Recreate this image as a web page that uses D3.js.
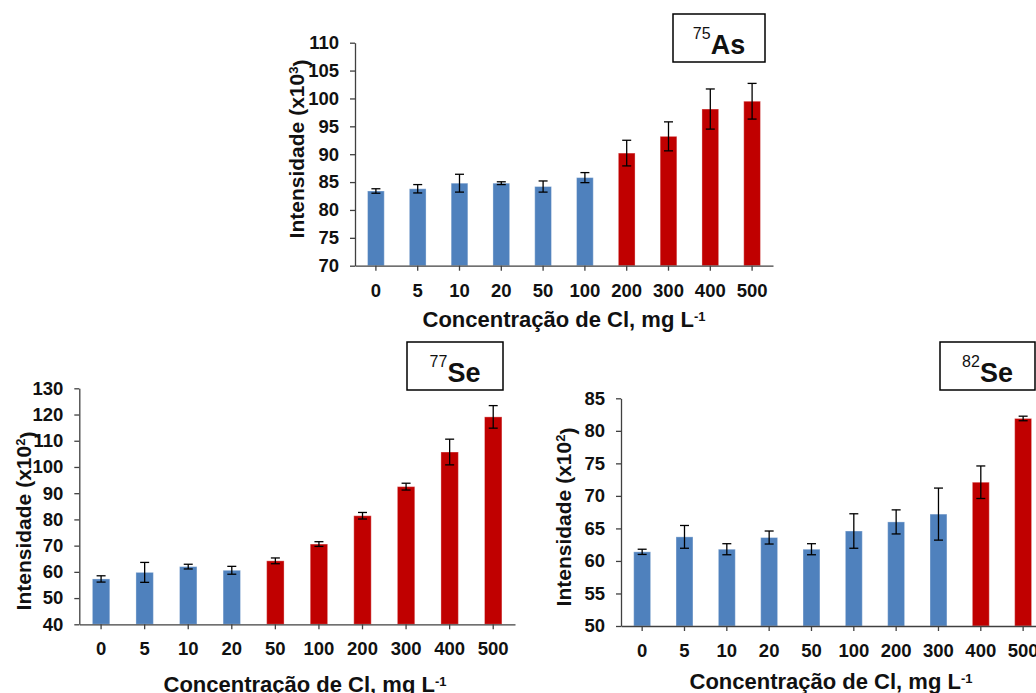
<!DOCTYPE html>
<html>
<head>
<meta charset="utf-8">
<script src="https://cdn.jsdelivr.net/npm/d3@7/dist/d3.min.js"></script>
<style>
  html, body { margin: 0; padding: 0; background: #fff; }
  svg { display: block; font-family: "Liberation Sans", Arial, sans-serif; font-weight: bold; }
</style>
</head>
<body>
<svg id="chart" width="1036" height="693"></svg>
<script>
// Chloride concentrations (mg L-1) shared by all three panels
const categories = ["0", "5", "10", "20", "50", "100", "200", "300", "400", "500"];

// 75As intensity (x10^3) and standard deviations
const asValues = [83.4, 83.8, 84.8, 84.8, 84.2, 85.8, 90.2, 93.2, 98.1, 99.5];
const asErrors = [0.4, 0.75, 1.6, 0.25, 1.0, 0.9, 2.3, 2.6, 3.6, 3.2];
const asTicks = [70, 75, 80, 85, 90, 95, 100, 105, 110];
const asFirstAffected = 6; // first category index with a significant interference

// 77Se intensity (x10^2) and standard deviations
const se77Values = [57.3, 59.8, 62.0, 60.6, 64.2, 70.6, 81.4, 92.5, 105.7, 119.1];
const se77Errors = [1.2, 3.8, 0.9, 1.5, 1.1, 0.9, 1.25, 1.3, 4.9, 4.3];
const se77Ticks = [40, 50, 60, 70, 80, 90, 100, 110, 120, 130];
const se77FirstAffected = 4;

// 82Se intensity (x10^2) and standard deviations
const se82Values = [61.4, 63.7, 61.8, 63.6, 61.8, 64.6, 66.0, 67.2, 72.1, 81.9];
const se82Errors = [0.4, 1.75, 0.85, 1.0, 0.85, 2.65, 1.85, 4.0, 2.5, 0.35];
const se82Ticks = [50, 55, 60, 65, 70, 75, 80, 85];
const se82FirstAffected = 8;

const BLUE = "#4F81BD";
const RED = "#C00000";

const svg = d3.select("#chart");

function panel(cfg) {
  const g = svg.append("g");
  const x = d3.scaleBand().domain(categories).range([cfg.left, cfg.right]).padding(0);
  const y = d3.scaleLinear().domain(d3.extent(cfg.ticks)).range([cfg.bottom, cfg.top]);
  const bw = x.bandwidth() * 0.4;

  const data = categories.map((c, i) => ({ c, v: cfg.values[i], e: cfg.errors[i], red: i >= cfg.firstAffected }));

  // bars
  g.selectAll("rect.bar").data(data).join("rect")
    .attr("class", "bar")
    .attr("x", d => x(d.c) + (x.bandwidth() - bw) / 2)
    .attr("width", bw)
    .attr("y", d => y(d.v))
    .attr("height", d => y.range()[0] - y(d.v))
    .attr("fill", d => d.red ? RED : BLUE)
    .attr("stroke", "#ffffff")
    .attr("stroke-opacity", 0.35)
    .attr("stroke-width", 1);

  // error bars
  const eb = g.selectAll("g.err").data(data).join("g").attr("class", "err")
    .attr("stroke", "#000").attr("stroke-width", 1.3).attr("fill", "none");
  const cx = d => x(d.c) + x.bandwidth() / 2;
  const cap = 4.5;
  eb.append("line").attr("x1", cx).attr("x2", cx)
    .attr("y1", d => y(d.v + d.e)).attr("y2", d => y(d.v - d.e));
  eb.append("line").attr("x1", d => cx(d) - cap).attr("x2", d => cx(d) + cap)
    .attr("y1", d => y(d.v + d.e)).attr("y2", d => y(d.v + d.e));
  eb.append("line").attr("x1", d => cx(d) - cap).attr("x2", d => cx(d) + cap)
    .attr("y1", d => y(d.v - d.e)).attr("y2", d => y(d.v - d.e));

  // axes
  const yAxis = d3.axisLeft(y).tickValues(cfg.ticks).tickSize(5).tickSizeOuter(0).tickPadding(11);
  const ya = g.append("g").attr("transform", `translate(${cfg.left},0)`).call(yAxis);
  const xAxis = d3.axisBottom(x).tickSize(5).tickSizeOuter(0).tickPadding(13);
  const xa = g.append("g").attr("transform", `translate(0,${cfg.bottom})`).call(xAxis);
  [ya, xa].forEach(a => {
    a.select(".domain").attr("stroke", "#404040").attr("stroke-width", 1.3);
    a.selectAll(".tick line").attr("stroke", "#404040").attr("stroke-width", 1.3);
    a.selectAll(".tick text").attr("fill", "#111").style("font-size", "18.5px")
      .style("font-family", "'Liberation Sans', Arial, sans-serif").style("font-weight", "bold");
  });

  // y title
  const yt = g.append("text")
    .attr("transform", `translate(${cfg.yTitleX},${cfg.yTitleY}) rotate(-90)`)
    .attr("text-anchor", "middle").attr("fill", "#111").style("font-size", "21px");
  yt.append("tspan").text("Intensidade (x10");
  yt.append("tspan").attr("dy", "-0.5em").style("font-size", "13px").text(cfg.power);
  yt.append("tspan").attr("dy", "0.5em").text(")");

  // x title
  const xt = g.append("text")
    .attr("x", cfg.xTitleX).attr("y", cfg.xTitleY)
    .attr("text-anchor", "middle").attr("fill", "#111").style("font-size", "22px");
  xt.append("tspan").text("Concentração de Cl, mg L");
  xt.append("tspan").attr("dy", "-0.5em").style("font-size", "13px").text("-1");

  // isotope label box
  const b = cfg.box;
  g.append("rect").attr("x", b[0]).attr("y", b[1]).attr("width", b[2]).attr("height", b[3])
    .attr("fill", "#fff").attr("stroke", "#000").attr("stroke-width", 1.5);
  const lt = g.append("text").attr("x", b[0] + b[2] / 2).attr("y", b[1] + b[3] - 14)
    .attr("text-anchor", "middle").attr("fill", "#111");
  lt.append("tspan").attr("dy", "-0.55em").style("font-size", "16px").style("font-weight", "normal").text(cfg.mass);
  lt.append("tspan").attr("dy", "0.55em").style("font-size", "27px").text(cfg.element);
}

panel({
  values: asValues, errors: asErrors, ticks: asTicks, firstAffected: asFirstAffected,
  left: 355, right: 773, top: 42.7, bottom: 265.7,
  power: "3", yTitleX: 304, yTitleY: 149,
  xTitleX: 564, xTitleY: 327,
  box: [673, 14, 92, 48], mass: "75", element: "As"
});

panel({
  values: se77Values, errors: se77Errors, ticks: se77Ticks, firstAffected: se77FirstAffected,
  left: 79.3, right: 515, top: 388.3, bottom: 624.3,
  power: "2", yTitleX: 31, yTitleY: 521,
  xTitleX: 305, xTitleY: 692,
  box: [407, 342, 96, 48], mass: "77", element: "Se"
});

panel({
  values: se82Values, errors: se82Errors, ticks: se82Ticks, firstAffected: se82FirstAffected,
  left: 621, right: 1044.3, top: 398.3, bottom: 626,
  power: "2", yTitleX: 571, yTitleY: 517,
  xTitleX: 831, xTitleY: 689,
  box: [940, 342, 95, 48], mass: "82", element: "Se"
});
</script>
</body>
</html>
